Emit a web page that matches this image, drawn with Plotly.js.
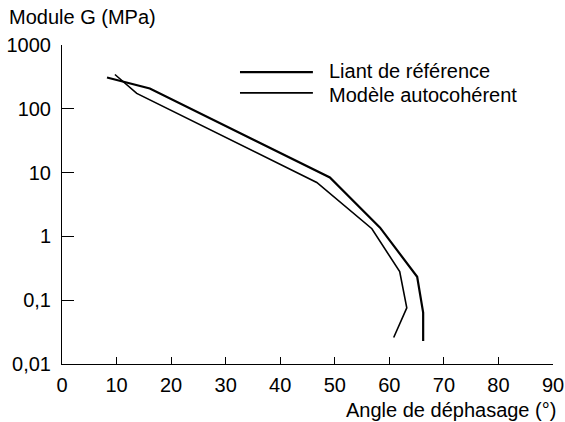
<!DOCTYPE html>
<html>
<head>
<meta charset="utf-8">
<script src="https://cdn.plot.ly/plotly-3.0.1.min.js"></script>
<style>html,body{margin:0;padding:0;background:#fff;}#chart{width:565px;height:422px;}</style>
</head>
<body>
<div id="chart"></div>
<script>
// Liant de référence (thicker curve)
const refAngle = [8.25, 16.1, 49.1, 58.3, 65.1, 66.2, 66.2];
const refModulus = [310, 208, 8.4, 1.37, 0.233, 0.064, 0.023];
// Modèle autocohérent
const modAngle = [9.7, 13.7, 46.7, 56.8, 61.9, 63.2, 60.8];
const modModulus = [345, 174, 7.0, 1.32, 0.28, 0.076, 0.026];

const seriesNames = ['Liant de référence', 'Modèle autocohérent'];
const yTickVals = [0.01, 0.1, 1, 10, 100, 1000];
const yTickText = ['0,01', '0,1', '1', '10', '100', '1000'];
const xTickVals = [0, 10, 20, 30, 40, 50, 60, 70, 80, 90];

const FONT = 'Liberation Sans, Arial, Helvetica, sans-serif';
const FS = 20;
const widths = [2.2, 1.6];

const traces = [
  {x: refAngle, y: refModulus, name: seriesNames[0], mode: 'lines', line: {color: '#000', width: widths[0]}},
  {x: modAngle, y: modModulus, name: seriesNames[1], mode: 'lines', line: {color: '#000', width: widths[1]}}
];

// hand-placed legend (sample lines + labels), in paper coordinates
const legendLineY = [0.915, 0.850];
const legendTextY = [0.918, 0.843];
const legendShapes = seriesNames.map((n, i) => ({
  type: 'line', xref: 'paper', yref: 'paper', x0: 0.3625, x1: 0.511, y0: legendLineY[i], y1: legendLineY[i],
  line: {color: '#000', width: widths[i]}
}));
const legendLabels = seriesNames.map((n, i) => ({
  text: n, xref: 'paper', yref: 'paper', x: 0.540, y: legendTextY[i], xanchor: 'left', yanchor: 'middle',
  showarrow: false, font: {family: FONT, size: FS, color: '#000'}
}));

const layout = {
  width: 565, height: 422,
  margin: {l: 62, r: 12, t: 45, b: 58},
  paper_bgcolor: '#fff', plot_bgcolor: '#fff',
  font: {family: FONT, size: FS, color: '#000'},
  showlegend: false,
  xaxis: {range: [0, 90], tickvals: xTickVals, ticks: 'inside', ticklen: 7, tickcolor: '#000',
          showline: true, linecolor: '#000', linewidth: 1, showgrid: false, zeroline: false,
          ticklabelstandoff: 3, tickfont: {family: FONT, size: FS}},
  yaxis: {type: 'log', range: [-2, 3], tickvals: yTickVals, ticktext: yTickText, ticks: 'inside', ticklen: 12,
          tickcolor: '#000', showline: true, linecolor: '#000', linewidth: 1, showgrid: false, zeroline: false,
          ticklabelstandoff: 6, tickfont: {family: FONT, size: FS}},
  shapes: legendShapes,
  annotations: [
    {text: 'Module G (MPa)', xref: 'paper', yref: 'paper', x: -0.112, y: 1.088, xanchor: 'left', yanchor: 'middle',
     showarrow: false, font: {family: FONT, size: FS}},
    {text: 'Angle de déphasage (°)', xref: 'paper', yref: 'paper', x: 1.01, y: -0.145, xanchor: 'right', yanchor: 'middle',
     showarrow: false, font: {family: FONT, size: FS}}
  ].concat(legendLabels)
};

Plotly.newPlot('chart', traces, layout, {displayModeBar: false, staticPlot: true});
</script>
</body>
</html>
